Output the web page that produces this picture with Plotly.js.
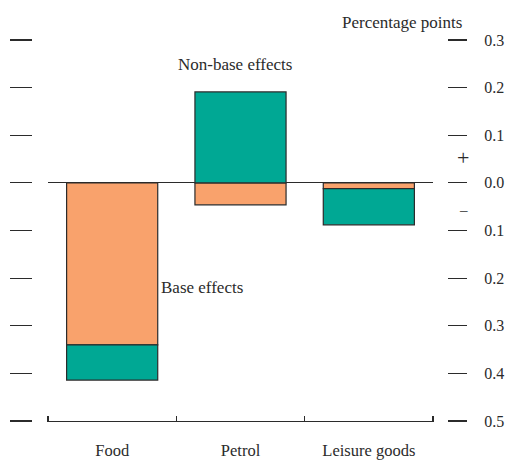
<!DOCTYPE html>
<html>
<head>
<meta charset="utf-8">
<script src="https://cdn.plot.ly/plotly-3.0.1.min.js"></script>
<style>html,body{margin:0;padding:0;background:#fff;}#chart{width:507px;height:461px;}</style>
</head>
<body>
<div id="chart"></div>
<script>
const categories = ["Food", "Petrol", "Leisure goods"];
const baseEffects = [-0.340, -0.046, -0.012];
const nonBaseEffects = [-0.074, 0.191, -0.076];
const tickValues = [0.3, 0.2, 0.1, 0.0, -0.1, -0.2, -0.3, -0.4, -0.5];
const tickLabels = ["0.3", "0.2", "0.1", "0.0", "0.1", "0.2", "0.3", "0.4", "0.5"];
const categoryBoundaries = [-0.5, 0.5, 1.5, 2.5];

const W = 507;
const PLOT_H = 381;
const FONT = "Liberation Serif, Times New Roman, serif";
const ink = "#2b2b2b";

const traces = [
  {type: "bar", name: "Base effects", x: categories, y: baseEffects,
   marker: {color: "#F9A26C", line: {color: ink, width: 1.2}}, yaxis: "y", xaxis: "x"},
  {type: "bar", name: "Non-base effects", x: categories, y: nonBaseEffects,
   marker: {color: "#00A894", line: {color: ink, width: 1.2}}, yaxis: "y", xaxis: "x"},
  {type: "scatter", mode: "markers", x: [], y: [], yaxis: "y2", xaxis: "x", hoverinfo: "skip", showlegend: false},
  {type: "scatter", mode: "markers", x: [], y: [], yaxis: "y", xaxis: "x2", hoverinfo: "skip", showlegend: false}
];

const layout = {
  width: 507, height: 461,
  margin: {l: 0, r: 0, t: 40, b: 40},
  paper_bgcolor: "#fff", plot_bgcolor: "rgba(0,0,0,0)",
  showlegend: false,
  barmode: "relative",
  bargap: 0.29,
  font: {family: FONT, size: 16, color: ink},
  xaxis: {
    domain: [48 / W, 433 / W],
    range: [-0.5, 2.5],
    showline: true, linecolor: ink, linewidth: 1.2,
    ticks: "", showgrid: false, zeroline: false,
    ticklabelstandoff: 14,
    tickfont: {family: FONT, size: 16.5, color: ink},
    fixedrange: true
  },
  xaxis2: {
    overlaying: "x", anchor: "free", position: 6 / PLOT_H, side: "bottom", type: "linear",
    range: [-0.5, 2.5],
    tickvals: categoryBoundaries,
    ticks: "outside", ticklen: 6, tickwidth: 1.2, tickcolor: ink,
    showticklabels: false, showline: false, showgrid: false, zeroline: false
  },
  yaxis: {
    anchor: "free", position: 447 / W, side: "right",
    range: [-0.5, 0.3],
    tickvals: tickValues, ticktext: tickLabels,
    ticks: "outside", ticklen: 19, tickwidth: 1.2, tickcolor: ink,
    ticklabelstandoff: 14,
    showline: false, showgrid: false,
    zeroline: true, zerolinecolor: ink, zerolinewidth: 1.1,
    tickfont: {family: FONT, size: 16, color: ink}
  },
  yaxis2: {
    overlaying: "y", anchor: "free", position: 32 / W, side: "left",
    range: [-0.5, 0.3],
    tickvals: tickValues,
    ticks: "outside", ticklen: 22, tickwidth: 1.2, tickcolor: ink,
    showticklabels: false, showline: false, showgrid: false, zeroline: false
  },
  annotations: [
    {text: "Percentage points", xref: "paper", yref: "paper", x: 402 / W, y: 1 + 18 / PLOT_H,
     xanchor: "center", yanchor: "middle", showarrow: false, font: {family: FONT, size: 17, color: ink}},
    {text: "Non-base effects", xref: "paper", yref: "paper", x: 235 / W, y: 1 - 25 / PLOT_H,
     xanchor: "center", yanchor: "middle", showarrow: false, font: {family: FONT, size: 17, color: ink}},
    {text: "Base effects", xref: "paper", yref: "paper", x: 159 / W, y: 1 - 247 / PLOT_H,
     xanchor: "left", yanchor: "middle", showarrow: false, font: {family: FONT, size: 17, color: ink}},
    {text: "+", xref: "paper", yref: "paper", x: 463 / W, y: 1 - 117 / PLOT_H,
     xanchor: "center", yanchor: "middle", showarrow: false, font: {family: FONT, size: 22, color: ink}},
    {text: "\u2013", xref: "paper", yref: "paper", x: 463 / W, y: 1 - 170 / PLOT_H,
     xanchor: "center", yanchor: "middle", showarrow: false, font: {family: FONT, size: 15, color: ink}}
  ]
};

Plotly.newPlot("chart", traces, layout, {staticPlot: true, displayModeBar: false});
</script>
</body>
</html>
